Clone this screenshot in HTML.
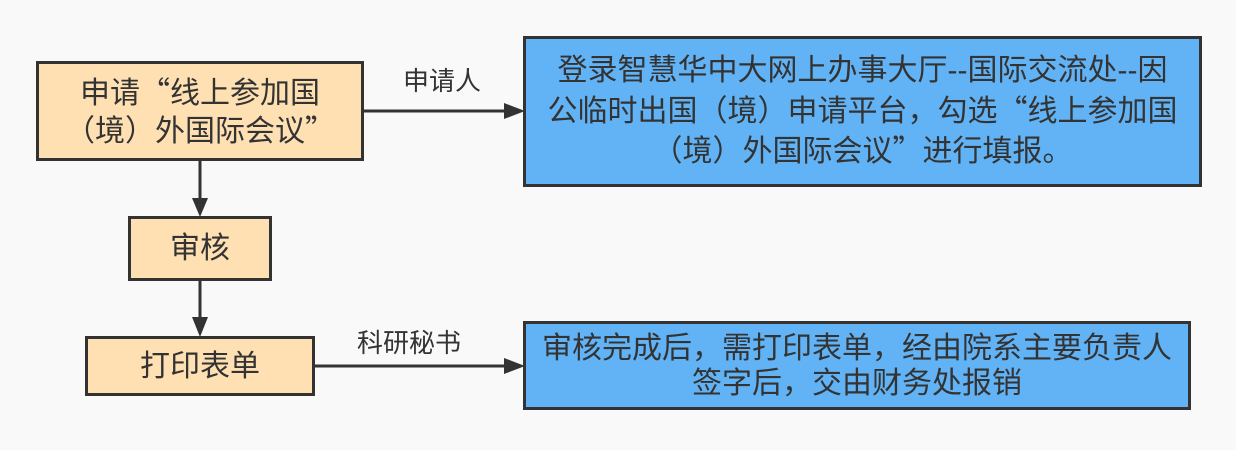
<!DOCTYPE html>
<html>
<head>
<meta charset="utf-8">
<style>
html,body{margin:0;padding:0;}
body{width:1236px;height:450px;background:#f9f9f9;position:relative;overflow:hidden;
font-family:"Liberation Sans","Noto Sans CJK SC",sans-serif;color:#333;}
.box{position:absolute;box-sizing:border-box;border:3px solid #333;display:flex;align-items:center;justify-content:center;text-align:center;font-size:30px;}
.o{background:#ffe0b2;}
.b{background:#62b3f5;}
.ql{display:inline-block;width:1em;text-align:right;font-family:"Noto Sans CJK SC",sans-serif;}
.qr{display:inline-block;width:1em;text-align:left;font-family:"Noto Sans CJK SC",sans-serif;}
.lbl{position:absolute;font-size:26px;line-height:30px;text-align:center;white-space:nowrap;}
svg{position:absolute;left:0;top:0;}
</style>
</head>
<body>
<svg width="1236" height="450" viewBox="0 0 1236 450">
  <g stroke="#333" stroke-width="3" fill="none">
    <line x1="364" y1="111" x2="506" y2="111"/>
    <line x1="200" y1="161" x2="200" y2="200"/>
    <line x1="200" y1="281" x2="200" y2="318"/>
    <line x1="315" y1="366" x2="506" y2="366"/>
  </g>
  <g fill="#333">
    <polygon points="504,103 525,111 504,119"/>
    <polygon points="504,358 525,366 504,374"/>
    <polygon points="192,198 200,217 208,198"/>
    <polygon points="192,317 200,337 208,317"/>
  </g>
</svg>

<div class="box o" style="left:36px;top:61px;width:328px;height:100px;line-height:35px;">
  <div>申请<span class="ql">“</span>线上参加国<br>（境）外国际会议<span class="qr">”</span></div>
</div>

<div class="lbl" style="left:382px;top:66px;width:120px;">申请人</div>

<div class="box b" style="left:523px;top:36px;width:679px;height:151px;line-height:37.5px;">
  <div>登录智慧华中大网上办事大厅--国际交流处--因<br>公临时出国（境）申请平台，勾选<span class="ql">“</span>线上参加国<br>（境）外国际会议<span class="qr">”</span>进行填报。</div>
</div>

<div class="box o" style="left:128px;top:216px;width:144px;height:65px;line-height:35px;">
  <div>审核</div>
</div>

<div class="box o" style="left:85px;top:336px;width:230px;height:60px;line-height:35px;">
  <div>打印表单</div>
</div>

<div class="lbl" style="left:349px;top:328px;width:120px;">科研秘书</div>

<div class="box b" style="left:523px;top:321px;width:668px;height:89px;line-height:35px;">
  <div>审核完成后，需打印表单，经由院系主要负责人<br>签字后，交由财务处报销</div>
</div>
</body>
</html>
